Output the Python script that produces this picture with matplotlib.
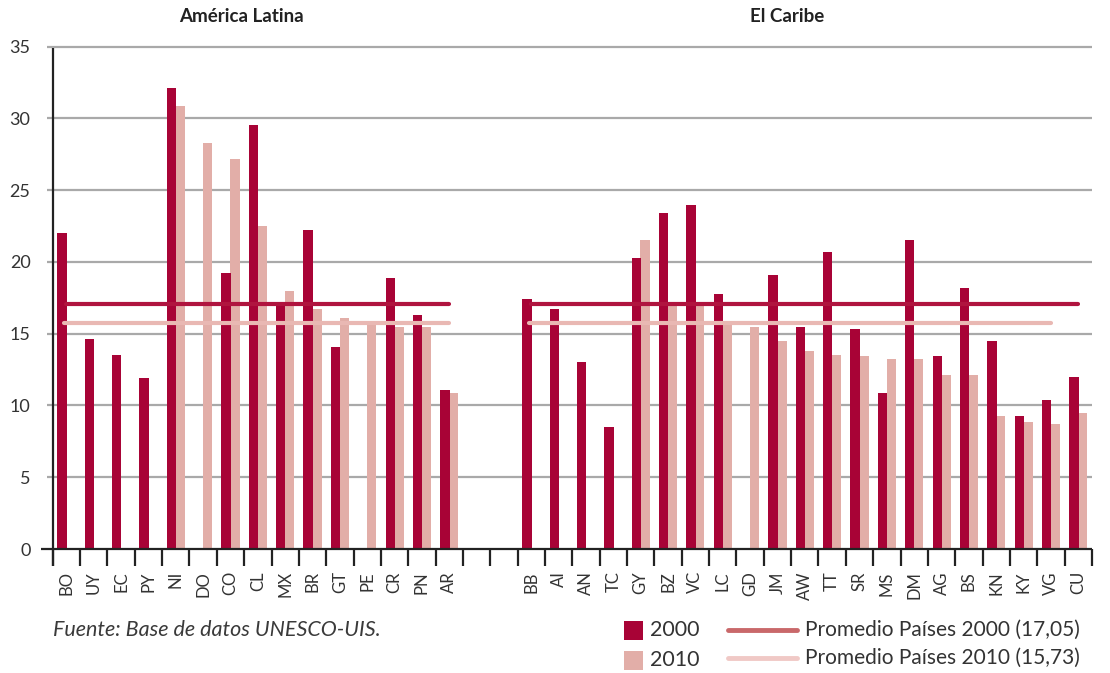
import matplotlib
matplotlib.use("Agg")
import matplotlib.pyplot as plt
import numpy as np
from matplotlib.patches import Rectangle
from matplotlib.lines import Line2D

# ---------------- data ----------------
cats_la = ['BO', 'UY', 'EC', 'PY', 'NI', 'DO', 'CO', 'CL', 'MX', 'BR', 'GT', 'PE', 'CR', 'PN', 'AR']
v2000_la = [22.0, 14.65, 13.5, 11.9, 32.1, np.nan, 19.25, 29.55, 17.1, 22.2, 14.1, np.nan, 18.9, 16.3, 11.1]
v2010_la = [np.nan, np.nan, np.nan, np.nan, 30.9, 28.3, 27.2, 22.5, 18.0, 16.7, 16.1, 15.85, 15.5, 15.5, 10.9]

cats_cb = ['BB', 'AI', 'AN', 'TC', 'GY', 'BZ', 'VC', 'LC', 'GD', 'JM', 'AW', 'TT', 'SR', 'MS', 'DM',
           'AG', 'BS', 'KN', 'KY', 'VG', 'CU']
v2000_cb = [17.4, 16.7, 13.0, 8.5, 20.3, 23.4, 24.0, 17.8, np.nan, 19.1, 15.5, 20.7, 15.3, 10.9, 21.5,
            13.45, 18.2, 14.5, 9.3, 10.4, 12.0]
v2010_cb = [np.nan, np.nan, np.nan, np.nan, 21.5, 16.9, 16.9, 15.8, 15.5, 14.5, 13.8, 13.5, 13.45, 13.25, 13.25,
            12.1, 12.1, 9.3, 8.85, 8.7, 9.5]

avg2000 = 17.05
avg2010 = 15.73
gap_slots = 2
y_ticks = [0, 5, 10, 15, 20, 25, 30, 35]

C2000 = '#a80336'
C2010 = '#e2aea8'
L2000 = '#b0143f'
L2010 = '#e9b8b3'
LEG_L2000 = '#c9686a'
LEG_L2010 = '#f0c9c6'
GRID = '#a9a9a9'
AX = '#222222'
TXT = '#333333'

plt.rcParams['font.family'] = ['Lato', 'DejaVu Sans']

W, H = 1110, 673
fig = plt.figure(figsize=(W / 100, H / 100), dpi=100)

# axes geometry in pixels
ax_left_px, ax_right_px = 52.7, 1092.0
ax_bottom_px, ax_top_px = 549.0, 46.7
ax = fig.add_axes([ax_left_px / W, 1 - ax_bottom_px / H,
                   (ax_right_px - ax_left_px) / W, (ax_bottom_px - ax_top_px) / H])

n_la = len(cats_la)
n_cb = len(cats_cb)
pos_la = np.arange(n_la)
pos_cb = np.arange(n_cb) + n_la + gap_slots
n_total = n_la + gap_slots + n_cb

ax.set_xlim(-0.5, n_total - 0.5)
ax.set_ylim(0, 35)
px_x = (n_total) / (ax_right_px - ax_left_px)      # data units per pixel (x)
px_y = 35.0 / (ax_bottom_px - ax_top_px)           # data units per pixel (y)

bw = 0.34
off = 0.16
ax.bar(pos_la - off, v2000_la, width=bw, color=C2000, zorder=3, linewidth=0)
ax.bar(pos_la + off, v2010_la, width=bw, color=C2010, zorder=2, linewidth=0)
ax.bar(pos_cb - off, v2000_cb, width=bw, color=C2000, zorder=3, linewidth=0)
ax.bar(pos_cb + off, v2010_cb, width=bw, color=C2010, zorder=2, linewidth=0)

# gridlines
ax.hlines(y_ticks[1:], -0.5 - 5.7 * px_x, n_total - 0.5, colors=GRID, linewidth=1.6,
          zorder=1, clip_on=False)

# average lines
ax.plot([pos_la[0], pos_la[-1]], [avg2000, avg2000], color=L2000, lw=3, solid_capstyle='round', zorder=5)
ax.plot([pos_la[0] - 0.1, pos_la[-1]], [avg2010, avg2010], color=L2010, lw=3, solid_capstyle='round', zorder=4)
ax.plot([pos_cb[0], pos_cb[-1]], [avg2000, avg2000], color=L2000, lw=3, solid_capstyle='round', zorder=5)
ax.plot([pos_cb[0] - 0.1, pos_cb[-2]], [avg2010, avg2010], color=L2010, lw=3, solid_capstyle='round', zorder=4)

# axis lines & boundary ticks
tick_len = 17 * px_y
ax.hlines(0, -0.5 - 11.7 * px_x, n_total - 0.5, colors=AX, linewidth=1.6, zorder=6, clip_on=False)
ax.vlines(-0.5, -tick_len, 35 - 1.3 * px_y, colors=AX, linewidth=1.6, zorder=6, clip_on=False)
ax.vlines(np.arange(n_total + 1) - 0.5, -tick_len, 0, colors=AX, linewidth=1.6, zorder=6, clip_on=False)

for s in ax.spines.values():
    s.set_visible(False)

ax.set_yticks(y_ticks)
ax.set_yticklabels([str(t) for t in y_ticks])
ax.tick_params(axis='y', length=0, pad=16, labelsize=13, labelcolor=TXT)
ax.set_xticks(np.concatenate([pos_la, pos_cb]))
ax.set_xticklabels(cats_la + cats_cb, rotation=90)
ax.tick_params(axis='x', length=0, pad=16, labelsize=12, labelcolor=TXT)

# titles
fig.text(241 / W, 1 - 17 / H, 'América Latina', ha='center', va='center', fontsize=13.5,
         fontweight='bold', color='#222222')
fig.text(787 / W, 1 - 17 / H, 'El Caribe', ha='center', va='center', fontsize=13.5,
         fontweight='bold', color='#222222')

# source
fig.text(53 / W, 1 - 630 / H, 'Fuente: Base de datos UNESCO-UIS.', ha='left', va='center',
         fontsize=15.5, style='italic', color='#3a3a3a', fontweight='normal')

# legend (manual)
def px2fig(x, y):
    return x / W, 1 - y / H

for (y, col, lab) in [(630, C2000, '2000'), (660.5, C2010, '2010')]:
    x0, y0 = px2fig(624, y + 9.5)
    fig.add_artist(Rectangle((x0, y0), 19 / W, 19 / H, transform=fig.transFigure,
                             facecolor=col, edgecolor='none'))
    fx, fy = px2fig(650, y)
    fig.text(fx, fy, lab, ha='left', va='center', fontsize=15.5, color=TXT)

for (y, col, lab) in [(630, LEG_L2000, 'Promedio Países 2000 (17,05)'),
                      (658, LEG_L2010, 'Promedio Países 2010 (15,73)')]:
    xa, ya = px2fig(728, y)
    xb, _ = px2fig(797, y)
    fig.add_artist(Line2D([xa, xb], [ya, ya], transform=fig.transFigure, color=col, lw=3.5,
                          solid_capstyle='round'))
    fx, fy = px2fig(805, y)
    fig.text(fx, fy, lab, ha='left', va='center', fontsize=15, color=TXT)

fig.savefig('out.png', dpi=100)
